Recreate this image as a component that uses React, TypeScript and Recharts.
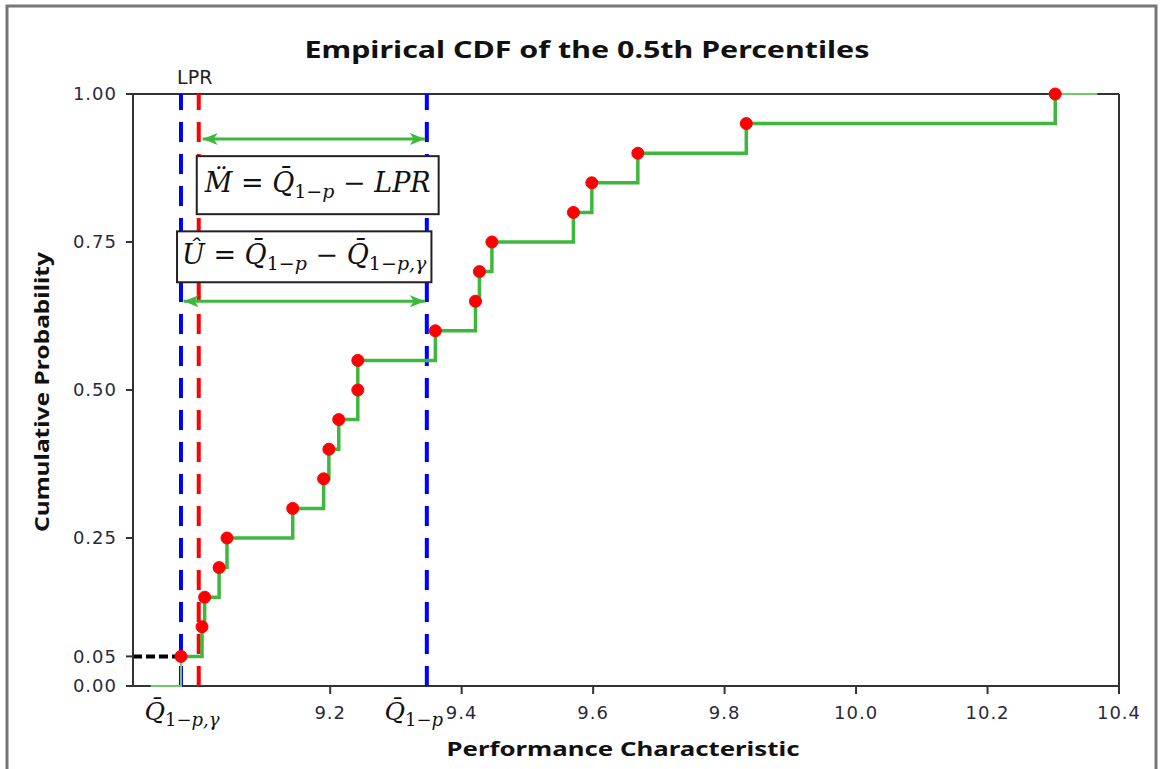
import React from 'react';
import { ComposedChart, Line, XAxis, YAxis, ReferenceLine } from 'recharts';

// empirical CDF of the 0.5th percentiles (sorted sample values)
const ecdfX = [8.973, 9.005, 9.009, 9.031, 9.043, 9.143, 9.19, 9.198, 9.213, 9.242, 9.242, 9.36, 9.421, 9.427, 9.446, 9.57, 9.598, 9.668, 9.833, 10.303];
const ecdfP = [0.05, 0.1, 0.15, 0.2, 0.25, 0.3, 0.35, 0.4, 0.45, 0.5, 0.55, 0.6, 0.65, 0.7, 0.75, 0.8, 0.85, 0.9, 0.95, 1.0];

// thin lead-in / tail of the step curve
const leadX = [8.927, 8.973];
const leadP = [0, 0.05];
const tailX = [10.303, 10.367];
const tailP = [1.0, 1.0];

// reference values
const qGamma = 8.973; // Q-bar 1-p,gamma
const lpr = 9.0;
const qBar = 9.347; // Q-bar 1-p

const xTicks = [qGamma, 9.2, qBar, 9.4, 9.6, 9.8, 10.0, 10.2, 10.4];
const yTicks = [0, 0.05, 0.25, 0.5, 0.75, 1.0];

const ecdfData = ecdfX.map((x, i) => ({ x, p: ecdfP[i] }));
const leadData = leadX.map((x, i) => ({ x, p: leadP[i] }));
const tailData = tailX.map((x, i) => ({ x, p: tailP[i] }));

const GREEN = '#3db83d';
const MATH_FONT = "'DejaVu Serif', 'Liberation Serif', serif";
const TICK_FONT = "'DejaVu Sans', Verdana, sans-serif";

const QLabel = ({ x, y, sub, anchor = 'middle' }: any) => (
  <text x={x} y={y} textAnchor={anchor} fontFamily={MATH_FONT} fontSize={25} fill="#111">
    <tspan fontStyle="italic">Q&#772;</tspan>
    <tspan fontSize={18} dy={6}>1−</tspan>
    <tspan fontSize={18} dy={0} fontStyle="italic">{sub}</tspan>
  </text>
);

const XTick = (props: any) => {
  const { x, y, payload } = props;
  const v = payload.value;
  if (v === qGamma) return <QLabel x={x + 1} y={y + 34} sub="p,γ" />;
  if (v === qBar) return <QLabel x={x - 13} y={y + 34} sub="p" />;
  return (
    <g>
      <line x1={x} y1={y} x2={x} y2={y + 8} stroke="#333" strokeWidth={2} />
      <text x={x} y={y + 33} textAnchor="middle" fontFamily={TICK_FONT} fontSize={18}
        letterSpacing={1} fill="#2a2a3a">
        {v.toFixed(1)}
      </text>
    </g>
  );
};

const arrowShape = (props: any) => {
  const { x1, y1, x2, y2 } = props;
  return (
    <line x1={x1} y1={y1} x2={x2} y2={y2} stroke={GREEN} strokeWidth={3}
      markerStart="url(#arrowStart)" markerEnd="url(#arrowEnd)" />
  );
};

// annotation box drawn from a diagonal reference segment
const boxShape = (content: React.ReactNode) => (props: any) => {
  const { x1, y1, x2, y2 } = props;
  const x = Math.min(x1, x2);
  const y = Math.min(y1, y2);
  const w = Math.abs(x2 - x1);
  const h = Math.abs(y2 - y1);
  return (
    <g>
      <rect x={x} y={y} width={w} height={h} fill="#fff" stroke="#222" strokeWidth={2} />
      <text x={x + w / 2} y={y + h / 2 + 7} textAnchor="middle" fontFamily={MATH_FONT} fontSize={27} fill="#111">
        {content}
      </text>
    </g>
  );
};

const mContent = [
  <tspan key="a" fontStyle="italic">M&#776;</tspan>,
  <tspan key="b"> = </tspan>,
  <tspan key="c" fontStyle="italic">Q&#772;</tspan>,
  <tspan key="d" fontSize={19} dy={6}>1−</tspan>,
  <tspan key="e" fontSize={19} fontStyle="italic">p</tspan>,
  <tspan key="f" dy={-6}> − </tspan>,
  <tspan key="g" fontStyle="italic">LPR</tspan>,
];

const uContent = [
  <tspan key="a" fontStyle="italic">Û</tspan>,
  <tspan key="b"> = </tspan>,
  <tspan key="c" fontStyle="italic">Q&#772;</tspan>,
  <tspan key="d" fontSize={19} dy={6}>1−</tspan>,
  <tspan key="e" fontSize={19} fontStyle="italic">p</tspan>,
  <tspan key="f" dy={-6}> − </tspan>,
  <tspan key="g" fontStyle="italic">Q&#772;</tspan>,
  <tspan key="h" fontSize={19} dy={6}>1−</tspan>,
  <tspan key="i" fontSize={19} fontStyle="italic">p,γ</tspan>,
];

export default function App() {
  return (
    <div style={{ position: 'fixed', left: 0, top: 0, width: 1161, height: 769, overflow: 'hidden', background: '#fff' }}>
      <ComposedChart width={1161} height={769} data={ecdfData}
        margin={{ top: 94, right: 42, left: 73, bottom: 53 }}>
        <defs>
          <marker id="arrowEnd" markerUnits="userSpaceOnUse" markerWidth={16} markerHeight={14}
            refX={15} refY={7} orient="auto">
            <path d="M0,1 L15,7 L0,13 L4,7 z" fill={GREEN} />
          </marker>
          <marker id="arrowStart" markerUnits="userSpaceOnUse" markerWidth={16} markerHeight={14}
            refX={1} refY={7} orient="auto">
            <path d="M16,1 L1,7 L16,13 L12,7 z" fill={GREEN} />
          </marker>
        </defs>
        <XAxis dataKey="x" type="number" domain={[8.9, 10.4]} allowDataOverflow ticks={xTicks}
          interval={0} tick={<XTick />} tickLine={false} tickSize={0} tickMargin={0} height={30}
          axisLine={false} />
        <YAxis type="number" domain={[0, 1]} ticks={yTicks} interval={0} width={60}
          tickFormatter={(v: number) => v.toFixed(2)} tickSize={7} tickMargin={9}
          tick={{ fontSize: 18, fill: '#2a2a3a', fontFamily: TICK_FONT, letterSpacing: 1 }}
          tickLine={{ stroke: '#333', strokeWidth: 2 }} axisLine={{ stroke: '#333', strokeWidth: 2 }} />

        {/* frame bottom / top / right */}
        <ReferenceLine y={0} stroke="#333" strokeWidth={2} />
        <ReferenceLine y={1} stroke="#333" strokeWidth={2} />
        <ReferenceLine x={10.4} stroke="#333" strokeWidth={2} />

        {/* reference quantities */}
        <ReferenceLine x={qGamma} stroke="#0000ff" strokeWidth={4} strokeDasharray="20 12" />
        <ReferenceLine x={lpr} stroke="#ff0000" strokeWidth={4} strokeDasharray="20 12"
          label={{ value: 'LPR', position: 'top', offset: 10, fontSize: 19, fill: '#222', fontFamily: TICK_FONT, dx: -4 }} />
        <ReferenceLine x={qBar} stroke="#0000ff" strokeWidth={4} strokeDasharray="20 12" />
        <ReferenceLine segment={[{ x: 8.9, y: 0.05 }, { x: qGamma, y: 0.05 }]} stroke="#000"
          strokeWidth={4} strokeDasharray="9 4" />

        {/* annotation boxes */}
        <ReferenceLine segment={[{ x: 8.997, y: 0.895 }, { x: 9.365, y: 0.797 }]} shape={boxShape(mContent)} />
        <ReferenceLine segment={[{ x: 8.967, y: 0.768 }, { x: 9.354, y: 0.682 }]} shape={boxShape(uContent)} />

        <ReferenceLine segment={[{ x: 9.006, y: 0.924 }, { x: 9.344, y: 0.924 }]} shape={arrowShape} />
        <ReferenceLine segment={[{ x: 8.977, y: 0.65 }, { x: 9.344, y: 0.65 }]} shape={arrowShape} />

        <Line data={leadData} dataKey="p" type="stepAfter" stroke="#72c872" strokeWidth={2}
          dot={false} activeDot={false} isAnimationActive={false} />
        <Line data={tailData} dataKey="p" type="stepAfter" stroke="#72c872" strokeWidth={2}
          dot={false} activeDot={false} isAnimationActive={false} />
        <Line data={ecdfData} dataKey="p" type="stepAfter" stroke={GREEN} strokeWidth={3.5}
          dot={{ r: 6, fill: '#ff0000', stroke: '#ff0000', strokeWidth: 1 }} activeDot={false}
          isAnimationActive={false} />
      </ComposedChart>

      <svg width={1161} height={769} style={{ position: 'absolute', left: 0, top: 0, pointerEvents: 'none' }}>
        <rect x={7} y={6} width={1149} height={820} fill="none" stroke="#777" strokeWidth={3} />
        <text x={587} y={58} textAnchor="middle" fontFamily="'Noto Sans', 'DejaVu Sans', sans-serif"
          fontWeight="bold" fontSize={24} fill="#111" textLength={565} lengthAdjust="spacingAndGlyphs">
          Empirical CDF of the 0.5th Percentiles
        </text>
        <text x={623} y={756} textAnchor="middle" fontFamily="'Noto Sans', 'DejaVu Sans', sans-serif"
          fontWeight="bold" fontSize={19} fill="#111" textLength={353} lengthAdjust="spacingAndGlyphs">
          Performance Characteristic
        </text>
        <text x={0} y={0} transform="translate(49,392) rotate(-90)" textAnchor="middle"
          fontFamily="'Noto Sans', 'DejaVu Sans', sans-serif" fontWeight="bold" fontSize={19} fill="#111"
          textLength={280} lengthAdjust="spacingAndGlyphs">
          Cumulative Probability
        </text>
      </svg>
    </div>
  );
}
